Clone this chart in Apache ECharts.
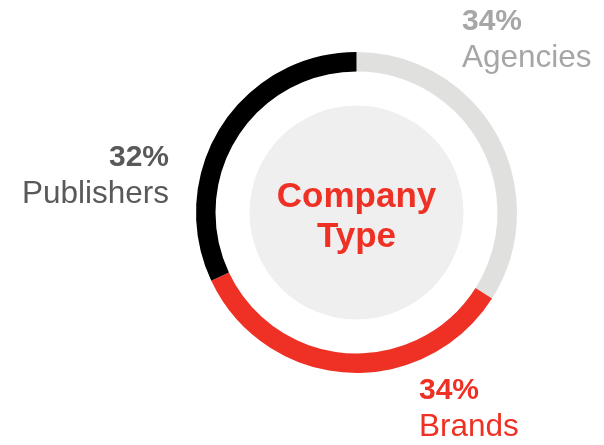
<!DOCTYPE html>
<html>
<head>
<meta charset="utf-8">
<script src="https://cdn.jsdelivr.net/npm/echarts@6/dist/echarts.min.js"></script>
<style>
  html, body { margin: 0; padding: 0; background: #ffffff; }
  #chart { width: 604px; height: 445px; }
</style>
</head>
<body>
<div id="chart"></div>
<script>
// Share of respondents by company type
const categories = ['Agencies', 'Brands', 'Publishers'];
const shares = [34, 34, 32];
const ringColors = ['#e0e0de', '#ee3124', '#000000'];
const labelColors = ['#a6a6a6', '#ee3124', '#595959'];
const centerTitle = ['Company', 'Type'];

// Where each outside label block sits (anchor x, top edge, line spacing)
const labelSpots = [
  { x: 462, y: 3, align: 'left', lh: 37 },
  { x: 419, y: 372, align: 'left', lh: 37 },
  { x: 169, y: 139, align: 'right', lh: 37 }
];

const FONT = '"Liberation Sans", Arial, Helvetica, sans-serif';

const ringData = categories.map((name, i) => ({
  name,
  value: shares[i],
  itemStyle: { color: ringColors[i] },
  label: {
    rich: {
      p: { fontFamily: FONT, fontSize: 30, fontWeight: 'bold', color: labelColors[i], lineHeight: labelSpots[i].lh },
      n: { fontFamily: FONT, fontSize: 31.5, color: labelColors[i], lineHeight: labelSpots[i].lh }
    }
  }
}));

const chart = echarts.init(document.getElementById('chart'), null, { renderer: 'canvas' });
chart.setOption({
  animation: false,
  series: [
    {
      type: 'pie',
      silent: true,
      center: [356.5, 212.5],
      radius: [0, 107],
      data: [{ value: 1, name: centerTitle.join(' '), itemStyle: { color: '#efefef' } }],
      label: {
        show: true,
        position: 'center',
        formatter: centerTitle.join('\n'),
        fontFamily: FONT,
        fontSize: 35,
        fontWeight: 'bold',
        color: '#ee3124',
        lineHeight: 40
      },
      labelLayout: () => ({ dy: 5 }),
      labelLine: { show: false }
    },
    {
      type: 'pie',
      silent: true,
      center: [356.5, 212.5],
      radius: [141, 160.5],
      startAngle: 90,
      clockwise: true,
      data: ringData,
      label: {
        show: true,
        position: 'outside',
        alignTo: 'none',
        overflow: 'none',
        formatter: p => '{p|' + p.value + '%}\n{n|' + p.name + '}'
      },
      labelLine: { show: false },
      labelLayout: params => {
        const s = labelSpots[params.dataIndex];
        return { x: s.x, y: s.y, align: s.align, verticalAlign: 'top' };
      }
    }
  ]
});
</script>
</body>
</html>
